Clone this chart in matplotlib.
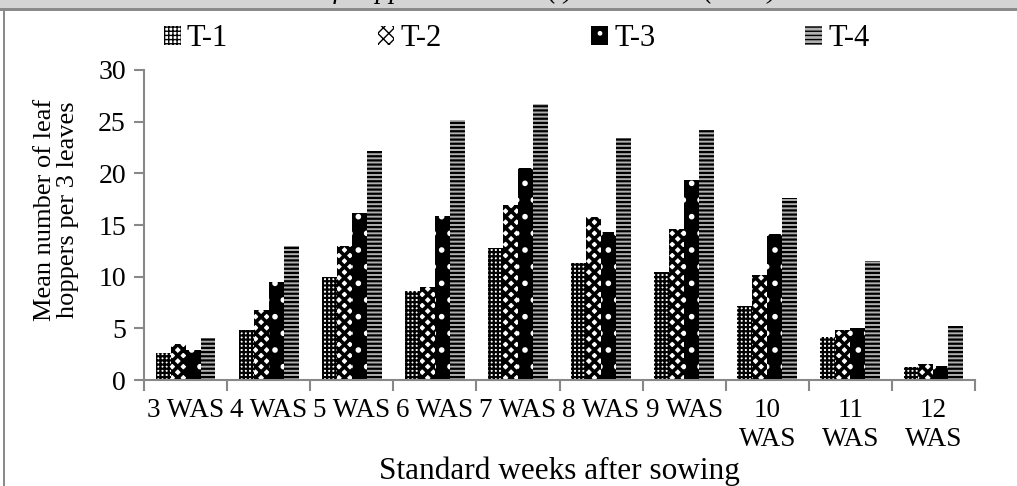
import numpy as np
import matplotlib
matplotlib.use('Agg')
import matplotlib.pyplot as plt
from matplotlib.patches import Rectangle

plt.rcParams['font.family'] = ['Liberation Serif', 'DejaVu Serif']

weeks = ['3 WAS', '4 WAS', '5 WAS', '6 WAS', '7 WAS', '8 WAS', '9 WAS',
         '10\nWAS', '11\nWAS', '12\nWAS']
t1 = [2.6, 4.8, 10.0, 8.6, 12.8, 11.3, 10.5, 7.2, 4.2, 1.3]
t2 = [3.5, 6.8, 13.0, 9.0, 16.9, 15.8, 14.6, 10.2, 4.8, 1.6]
t3 = [2.9, 9.5, 16.2, 15.9, 20.5, 14.3, 19.4, 14.1, 5.0, 1.4]
t4 = [4.1, 13.0, 22.2, 25.2, 26.7, 23.4, 24.2, 17.6, 11.5, 5.2]

series = [t1, t2, t3, t4]
names = ['T-1', 'T-2', 'T-3', 'T-4']
faces = ['white', 'white', 'black', '#b0b0b0']
hatch_cols = ['black', 'black', 'white', 'black']
hatches = ['++++', 'xxx', '.', '----']
hatch_lw = [1.6, 2.6, 1.6, 1.6]

fig = plt.figure(figsize=(10.17, 4.86), dpi=100)
ax = fig.add_axes([0.1416, 0.218, 0.8171, 0.638])

x = np.arange(len(weeks))
w = 0.18
for i, vals in enumerate(series):
    with plt.rc_context({'hatch.linewidth': hatch_lw[i]}):
        ax.bar(x + (i - 1.5) * w, vals, width=w, color=faces[i],
               edgecolor=hatch_cols[i], hatch=hatches[i], linewidth=0,
               label=names[i])

ax.set_xlim(-0.5, len(weeks) - 0.5)
ax.set_ylim(0, 30)
ax.set_yticks(np.arange(0, 31, 5))
ax.set_xticks(np.arange(-0.5, len(weeks), 1))
ax.set_xticklabels([])
ax.set_xticks(x, minor=True)
ax.set_xticklabels(weeks, minor=True, fontsize=19.5, linespacing=1.2, va='top')
ax.tick_params(axis='x', which='major', length=8, width=1.5, color='#888888', direction='out')
ax.tick_params(axis='x', which='minor', length=0, pad=13)
ax.tick_params(axis='y', length=7, width=1.5, color='#888888', labelsize=20, pad=6)

for s in ['top', 'right']:
    ax.spines[s].set_visible(False)
for s in ['left', 'bottom']:
    ax.spines[s].set_color('#888888')
    ax.spines[s].set_linewidth(1.5)

ax.set_ylabel('Mean number of leaf\nhoppers per 3 leaves', fontsize=19,
              linespacing=1.05)
ax.yaxis.set_label_coords(-0.078, 0.55)
ax.set_xlabel('Standard weeks after sowing', fontsize=22.5)
ax.xaxis.set_label_coords(0.5, -0.245)

leg = fig.legend(loc='center', bbox_to_anchor=(0.508, 0.92), ncol=4, frameon=False,
                 fontsize=22, handlelength=0.55, handleheight=0.55,
                 handletextpad=0.2, columnspacing=4.9)

# caption strip above the chart, cut off at the top
fig.patches.append(Rectangle((0, 1 - 8 / 486), 1, 8 / 486, transform=fig.transFigure,
                             facecolor='#d4d4d4', edgecolor='none', zorder=0))
fig.patches.append(Rectangle((0, 1 - 11 / 486), 1, 3 / 486, transform=fig.transFigure,
                             facecolor='#8a8a8a', edgecolor='none', zorder=1))
fig.patches.append(Rectangle((3 / 1017, 0), 2 / 1017, 1 - 11 / 486, transform=fig.transFigure,
                             facecolor='#8a8a8a', edgecolor='none', zorder=1))
fig.text(0.43, 1 + 2 / 486, 'leaf hoppers', fontsize=20, style='italic',
         ha='right', va='baseline')
fig.text(0.551, 1 + 2 / 486, '(i)', fontsize=20, style='italic',
         ha='center', va='baseline')
fig.text(0.728, 1 + 2 / 486, '(2019)', fontsize=20, style='italic',
         ha='center', va='baseline')

fig.savefig('out.png', dpi=100)
plt.close(fig)
